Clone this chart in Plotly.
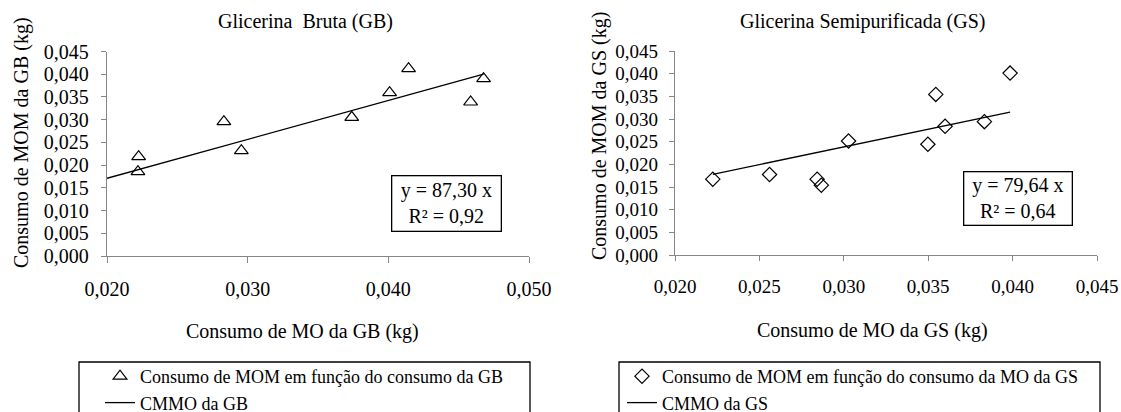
import plotly.graph_objects as go

# ---- data ----
gb_mo = [0.02225, 0.02220, 0.02831, 0.02955, 0.03740, 0.04009, 0.04144, 0.04585, 0.04677]
gb_mom = [0.02185, 0.01855, 0.02956, 0.02317, 0.03052, 0.03594, 0.04122, 0.03389, 0.03902]
gb_trend_x = [0.0200, 0.04677]
gb_trend_y = [0.0171, 0.0400]

gs_mo = [0.02224, 0.02560, 0.02842, 0.02867, 0.03028, 0.03498, 0.03545, 0.03600, 0.03833, 0.03985]
gs_mom = [0.01673, 0.01776, 0.01673, 0.01540, 0.02515, 0.02443, 0.03543, 0.02839, 0.02942, 0.04012]
gs_trend_x = [0.02224, 0.03985]
gs_trend_y = [0.0178, 0.0315]

title_gb = "Glicerina  Bruta (GB)"
title_gs = "Glicerina Semipurificada (GS)"
xtitle_gb = "Consumo de MO da GB (kg)"
xtitle_gs = "Consumo de MO da GS (kg)"
ytitle_gb = "Consumo de MOM da GB (kg)"
ytitle_gs = "Consumo de MOM da GS (kg)"
eq_gb = "y = 87,30 x<br>R² = 0,92"
eq_gs = "y = 79,64 x<br>R² = 0,64"
leg_pts_gb = "Consumo de MOM em função do consumo da GB"
leg_line_gb = "CMMO da GB"
leg_pts_gs = "Consumo de MOM em função do consumo da MO da GS"
leg_line_gs = "CMMO da GS"

W, H = 1121, 412
FONT = "Liberation Serif, Times New Roman, serif"
AX = "#868686"

def px(x):
    return x / W

def py(y):
    return (H - y) / H

fig = go.Figure()

fig.add_trace(go.Scatter(x=gb_mo, y=gb_mom, mode="markers", name=leg_pts_gb,
                         marker=dict(symbol="triangle-up-open", size=12, color="black",
                                     line=dict(width=1.2, color="black")),
                         xaxis="x", yaxis="y", legend="legend", cliponaxis=False))
fig.add_trace(go.Scatter(x=gb_trend_x, y=gb_trend_y, mode="lines", name=leg_line_gb,
                         line=dict(color="black", width=1.3),
                         xaxis="x", yaxis="y", legend="legend", cliponaxis=False))
fig.add_trace(go.Scatter(x=gs_mo, y=gs_mom, mode="markers", name=leg_pts_gs,
                         marker=dict(symbol="diamond-open", size=11, color="black",
                                     line=dict(width=1.2, color="black")),
                         xaxis="x2", yaxis="y2", legend="legend2", cliponaxis=False))
fig.add_trace(go.Scatter(x=gs_trend_x, y=gs_trend_y, mode="lines", name=leg_line_gs,
                         line=dict(color="black", width=1.3),
                         xaxis="x2", yaxis="y2", legend="legend2", cliponaxis=False))

axis_common = dict(showline=True, linecolor=AX, linewidth=1.3, ticks="outside",
                   tickcolor=AX, tickwidth=1.3, showgrid=False, zeroline=False,
                   tickformat=".3f", fixedrange=True, automargin=False)

fig.update_layout(
    width=W, height=H,
    margin=dict(l=0, r=0, t=0, b=0, autoexpand=False),
    paper_bgcolor="white", plot_bgcolor="white",
    separators=",.",
    font=dict(family=FONT, color="black", size=18),
    xaxis=dict(domain=[px(107), px(529)], range=[0.020, 0.050], dtick=0.010, tick0=0,
               anchor="y", ticklen=6, ticklabelstandoff=9,
               tickfont=dict(size=20, family=FONT), **axis_common),
    yaxis=dict(domain=[py(256), py(51.5)], range=[0, 0.045], dtick=0.005, tick0=0,
               anchor="x", ticklen=5, ticklabelstandoff=8,
               tickfont=dict(size=20, family=FONT), **axis_common),
    xaxis2=dict(domain=[px(675), px(1097)], range=[0.020, 0.045], dtick=0.005, tick0=0,
                anchor="y2", ticklen=5, ticklabelstandoff=9,
                tickfont=dict(size=19, family=FONT), **axis_common),
    yaxis2=dict(domain=[py(255), py(51)], range=[0, 0.045], dtick=0.005, tick0=0,
                anchor="x2", ticklen=5, ticklabelstandoff=7,
                tickfont=dict(size=19, family=FONT), **axis_common),
    legend=dict(x=px(100), y=py(358), xanchor="left", yanchor="top",
                bgcolor="rgba(0,0,0,0)", borderwidth=0, font=dict(size=18),
                tracegroupgap=0),
    legend2=dict(x=px(622), y=py(358), xanchor="left", yanchor="top",
                 bgcolor="rgba(0,0,0,0)", borderwidth=0, font=dict(size=18),
                 tracegroupgap=0),
    showlegend=True,
)

def label(text, x, y, **kw):
    d = dict(text=text, x=px(x), y=py(y), xref="paper", yref="paper",
             xanchor="center", yanchor="middle", showarrow=False)
    d.update(kw)
    return d

ann = [
    label(title_gb, 305, 22, font=dict(size=20)),
    label(title_gs, 862, 22, font=dict(size=20)),
    label(xtitle_gb, 302, 331, font=dict(size=20)),
    label(xtitle_gs, 872, 330, font=dict(size=20)),
    label(ytitle_gb, 22, 143, textangle=-90, font=dict(size=20)),
    label(ytitle_gs, 600, 136, textangle=-90, font=dict(size=20)),
    label(eq_gb, 446.5, 203.5, font=dict(size=20), bordercolor="black", borderwidth=1.3,
          borderpad=3, bgcolor="white", width=102),
    label(eq_gs, 1018, 198.5, font=dict(size=20), bordercolor="black", borderwidth=1.3,
          borderpad=2, bgcolor="white", width=103),
]
fig.update_layout(annotations=ann)

# legend frames
fig.add_shape(type="rect", xref="paper", yref="paper", x0=px(79), x1=px(530),
              y0=py(425), y1=py(362), line=dict(color="black", width=1.3))
fig.add_shape(type="rect", xref="paper", yref="paper", x0=px(619), x1=px(1100),
              y0=py(425), y1=py(362), line=dict(color="black", width=1.3))

fig.write_html("out.html", config={"displayModeBar": False},
               post_script="document.body.style.margin='0';document.body.style.overflow='hidden';")
